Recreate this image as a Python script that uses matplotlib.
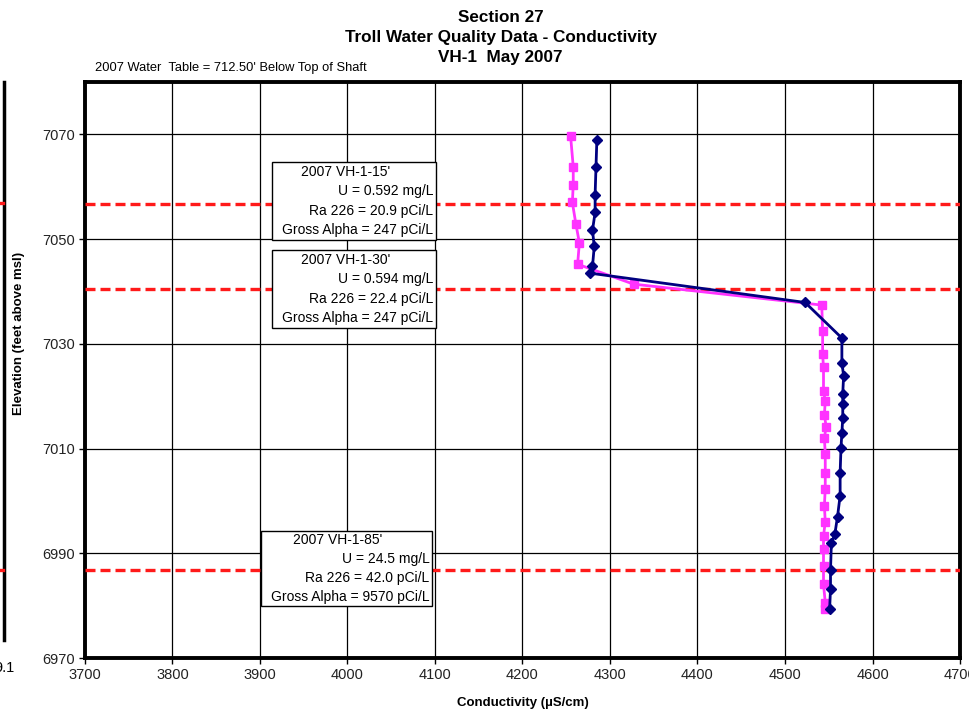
import matplotlib
matplotlib.use("Agg")
import matplotlib.pyplot as plt
from matplotlib.patches import Rectangle
from matplotlib.lines import Line2D

plt.rcParams['font.family'] = ['Liberation Sans', 'DejaVu Sans']

# navy series (diamonds)
blue_cond = [4285, 4284, 4283, 4283, 4280, 4282, 4280, 4277, 4523, 4565, 4565, 4567,
             4566, 4566, 4566, 4565, 4564, 4563, 4563, 4560, 4557, 4553, 4552, 4552, 4551]
blue_elev = [7069.0, 7063.8, 7058.5, 7055.1, 7051.7, 7048.6, 7044.8, 7043.5, 7037.9, 7031.1,
             7026.4, 7023.9, 7020.5, 7018.6, 7015.8, 7013.0, 7010.2, 7005.4, 7001.0, 6997.0,
             6993.7, 6991.9, 6986.8, 6983.1, 6979.4]

# magenta series (squares)
pink_cond = [4255, 4258, 4258, 4257, 4261, 4265, 4263, 4327, 4542, 4543, 4543, 4544,
             4544, 4546, 4545, 4547, 4545, 4546, 4546, 4546, 4545, 4546, 4544, 4544,
             4544, 4544, 4546, 4546]
pink_elev = [7069.6, 7063.8, 7060.4, 7057.0, 7052.9, 7049.3, 7045.2, 7041.4, 7037.4, 7032.5,
             7028.0, 7025.5, 7021.0, 7019.1, 7016.4, 7014.2, 7012.0, 7009.0, 7005.4, 7002.3,
             6999.1, 6996.0, 6993.3, 6990.8, 6987.6, 6984.1, 6980.6, 6979.4]

# sample depths (red dashed lines)
sample_elev = [7056.7, 7040.5, 6986.8]

boxes = [
    ["2007 VH-1-15'", "U = 0.592 mg/L", "Ra 226 = 20.9 pCi/L", "Gross Alpha = 247 pCi/L"],
    ["2007 VH-1-30'", "U = 0.594 mg/L", "Ra 226 = 22.4 pCi/L", "Gross Alpha = 247 pCi/L"],
    ["2007 VH-1-85'", "U = 24.5 mg/L", "Ra 226 = 42.0 pCi/L", "Gross Alpha = 9570 pCi/L"],
]
# box extents in axes fraction: x0, x1, y0, y1
box_pos = [(0.2137, 0.401, 0.7257, 0.861),
           (0.2137, 0.401, 0.573, 0.708),
           (0.201, 0.3966, 0.0903, 0.2205)]

fig = plt.figure(figsize=(9.7, 7.15), dpi=100)
ax = fig.add_axes([0.0876, 0.0797, 0.9021, 0.8056])

ax.set_xlim(3700, 4700)
ax.set_ylim(6970, 7080)
ax.set_xticks(range(3700, 4701, 100))
ax.set_yticks(range(6970, 7071, 20))
ax.grid(True, color='black', linewidth=0.9)
ax.set_axisbelow(True)
for s in ax.spines.values():
    s.set_linewidth(2.8)
ax.tick_params(labelsize=10.5, length=4, width=1, direction='out', labelcolor='#222222')

for e in sample_elev:
    ax.axhline(e, color='#ff1a1a', linewidth=2.4, linestyle=(0, (3, 1.5)), zorder=3)

ax.plot(blue_cond, blue_elev, color='#000080', linewidth=2, marker='D',
        markersize=5, zorder=5)
ax.plot(pink_cond, pink_elev, color='#ff33ff', linewidth=2, marker='s',
        markersize=6, zorder=4)

for lines, (x0, x1, y0, y1) in zip(boxes, box_pos):
    ax.add_patch(Rectangle((x0, y0), x1 - x0, y1 - y0, transform=ax.transAxes,
                           facecolor='white', edgecolor='black', linewidth=1, zorder=6))
    step = (y1 - y0) / 4
    ax.text((x0 + x1) / 2 - 0.01, y1 - step * 0.5, lines[0], transform=ax.transAxes,
            ha='center', va='center', fontsize=10, zorder=7)
    for i, t in enumerate(lines[1:]):
        ax.text(x1 - 0.003, y1 - step * (i + 1.5), t, transform=ax.transAxes,
                ha='right', va='center', fontsize=10, zorder=7)

ax.set_xlabel('Conductivity (µS/cm)', fontsize=9.5, fontweight='bold')
ax.xaxis.set_label_coords(0.5, -0.067)
ax.set_ylabel('Elevation (feet above msl)', fontsize=9.5, fontweight='bold')
ax.yaxis.set_label_coords(-0.069, 0.564)

fig.text(0.516, 0.976, 'Section 27', ha='center', va='center', fontsize=12.3, fontweight='bold')
fig.text(0.516, 0.948, 'Troll Water Quality Data - Conductivity', ha='center', va='center',
         fontsize=12.3, fontweight='bold')
fig.text(0.516, 0.919, 'VH-1  May 2007', ha='center', va='center', fontsize=12.3, fontweight='bold')
fig.text(0.098, 0.905, "2007 Water  Table = 712.50' Below Top of Shaft", ha='left', va='center',
         fontsize=9.3)

# edge of the neighbouring chart on the left
fig.add_artist(Line2D([0.004, 0.004], [0.105, 0.885], color='black', linewidth=2.5))
for e_y in [1 - 203 / 715, 1 - 570 / 715]:
    fig.add_artist(Line2D([0.0, 0.003], [e_y, e_y], color='#ff1a1a', linewidth=2.4))
fig.text(0.005, 0.066, '9.1', ha='center', va='center', fontsize=10.5)

fig.savefig('out.png', dpi=100)
